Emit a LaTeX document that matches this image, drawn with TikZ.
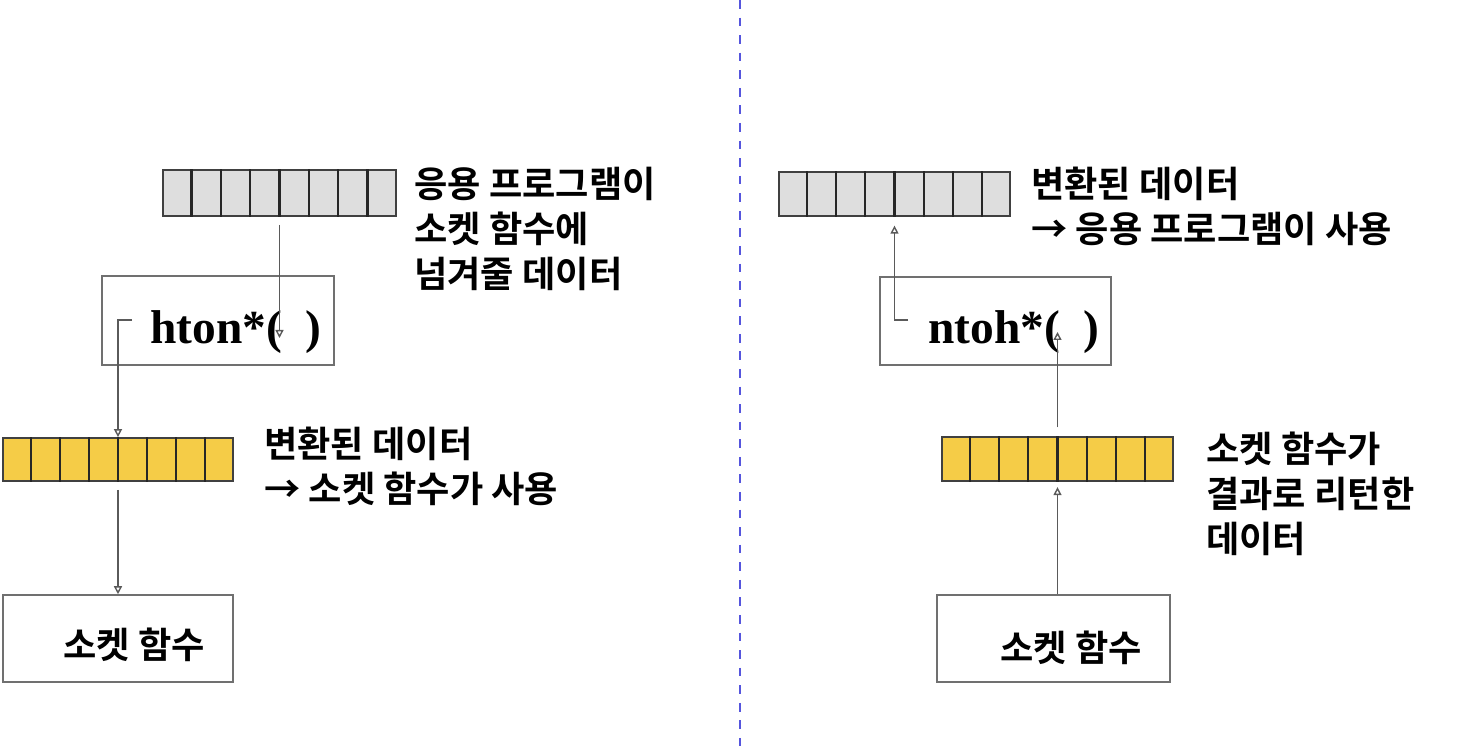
\documentclass[tikz,border=0pt]{standalone}
\usepackage{fontspec}
\usepackage{tikz}
\usetikzlibrary{arrows.meta,calc,positioning}
\setmainfont{Liberation Serif}
\newfontfamily\kofont{Noto Sans CJK KR}[BoldFont={* Bold}]
\definecolor{cellfill}{HTML}{DEDEDE}
\definecolor{byteyellow}{HTML}{F5CC47}
\definecolor{framegray}{HTML}{707070}
\definecolor{linegray}{HTML}{5A5A5A}
\definecolor{divider}{HTML}{5555DD}

\begin{document}
\begin{tikzpicture}[
        x=0.02cm,y=-0.02cm,
        reg/.style={draw=black!75,line width=1pt,inner sep=0pt},
        greyreg/.style={reg,fill=cellfill},
        yellowreg/.style={reg,fill=byteyellow},
        fbox/.style={draw=framegray,line width=0.9pt,fill=white,inner sep=0pt},
        fn/.style={font=\bfseries\fontsize{27}{32}\selectfont,inner sep=0pt},
        ko/.style={font=\kofont\bfseries\fontsize{20.6}{25.5}\selectfont,inner sep=0pt},
        lbl/.style={ko,align=left,anchor=north west},
        flow/.style={draw=linegray,line width=0.8pt,
                     -{Triangle[open,length=1.6mm,width=1.6mm]}}
      ]
        \useasboundingbox (0,0) rectangle (1478,746);
        % left: host -> network
        \node[greyreg,minimum width=4.66cm,minimum height=0.92cm] (greyL) at (279.5,193) {};
        \node[fbox,minimum width=4.64cm,minimum height=1.78cm] (htonbox) at (218,320.5) {};
        \node[fn] (hton) at (236,332) {hton*(\ \ )};
        \node[yellowreg,minimum width=4.6cm,minimum height=0.86cm] (yellowL) at (118,459.5) {};
        \node[fbox,minimum width=4.6cm,minimum height=1.74cm] (sockL) at (118,638.5) {};
        \node[ko] (sockLtxt) at (134,645) {소켓 함수};
        % right: network -> host
        \node[greyreg,minimum width=4.62cm,minimum height=0.88cm] (greyR) at (894.5,194) {};
        \node[fbox,minimum width=4.62cm,minimum height=1.76cm] (ntohbox) at (995.5,321) {};
        \node[fn] (ntoh) at (1014,332) {ntoh*(\ \ )};
        \node[yellowreg,minimum width=4.62cm,minimum height=0.88cm] (yellowR) at (1057.5,459) {};
        \node[fbox,minimum width=4.66cm,minimum height=1.74cm] (sockR) at (1053.5,638.5) {};
        \node[ko] (sockRtxt) at (1071,648) {소켓 함수};
        % cells
        \foreach \r in {greyL,yellowL,greyR,yellowR}
          \foreach \i in {1,...,7}
            \draw[black!85,line width=1.2pt] ($(\r.north west)!\i/8!(\r.north east)$) -- ($(\r.south west)!\i/8!(\r.south east)$);
        % labels
        \node[lbl] (appdata) at (414,167) {응용 프로그램이\\소켓 함수에\\넘겨줄 데이터};
        \node[lbl] (convL) at (264,427) {변환된 데이터\\→ 소켓 함수가 사용};
        \node[lbl] (convR) at (1031,167) {변환된 데이터\\→ 응용 프로그램이 사용};
        \node[lbl] (retdata) at (1206,432) {소켓 함수가\\결과로 리턴한\\데이터};
        % connectors
        \coordinate (hin) at (279.5,338);
        \coordinate (hout) at (132,320);
        \coordinate (nout) at (908,320);
        \coordinate (nin) at (1057.5,332);
        \draw[flow,shorten <=4.5pt] (greyL.south) -- (hin);
        \draw[flow] (hout) -| (yellowL.north);
        \draw[flow,shorten <=4.5pt] (yellowL.south) -- (sockL.north);
        \draw[flow,shorten >=5pt] (nout) -| (greyR.south);
        \draw[flow,shorten <=5pt] (yellowR.north) -- (nin);
        \draw[flow,shorten >=3pt] (yellowR.south |- sockR.north) -- (yellowR.south);
        % divider
        \draw[divider,line width=1pt,dash pattern=on 5pt off 5pt] (740,0) -- (740,746);
      \end{tikzpicture}
\end{document}
